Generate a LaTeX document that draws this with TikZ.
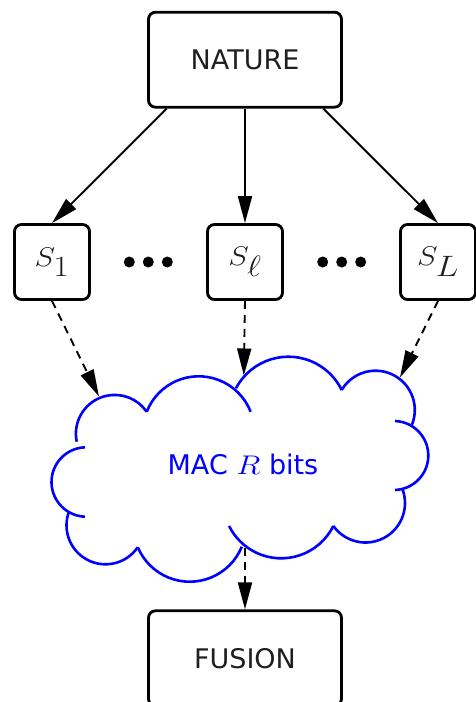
\RequirePackage{fix-cm}
\documentclass[tikz,border=0pt]{standalone}
\usepackage{fontspec}
\setmainfont{DejaVu Sans}
\DeclareMathSizes{27}{27}{29.5}{20}
\usetikzlibrary{arrows.meta,calc}
% slightly widened math italic, as set in the labels
\newcommand{\widemath}[2][1.15]{\scalebox{#1}[1]{$#2$}}

\begin{document}
\begin{tikzpicture}[x=1pt,y=1pt,yscale=-1,
  box/.style={draw=black, line width=2.8pt, rounded corners=7pt, text=black!88,
    font=\fontsize{27}{32}\selectfont},
  bigbox/.style={box, minimum width=193pt, minimum height=95pt},
  sbox/.style={box, minimum width=75pt, minimum height=75pt, inner sep=0pt},
  dotmark/.style={circle, fill=black, inner sep=0pt, minimum size=11pt},
  link/.style={line width=1.9pt, -{Triangle[length=27pt,width=14pt]}},
  dlink/.style={link, dash pattern=on 8pt off 6pt},
  cloudline/.style={draw=blue, line width=2.6pt},
]
\useasboundingbox (0,0) rectangle (476,702);
\clip (0,0) rectangle (476,702);

% boxes
\node[bigbox] (nature) at (245,59.7) {NATURE};
\node[bigbox] (fusion) at (245,658.3) {FUSION};
\node[sbox] (s1) at (52,262) {\widemath{S_1}};
\node[sbox] (sl) at (245,262) {\widemath{S_\ell}};
\node[sbox] (sL) at (438,262) {\widemath{S_L}};

% ellipsis dots between the sensors
\node[dotmark] (dl1) at (129.3,262) {};
\node[dotmark] (dl2) at (148.3,262) {};
\node[dotmark] (dl3) at (167.3,262) {};
\node[dotmark] (dr1) at (322.7,262) {};
\node[dotmark] (dr2) at (341.7,262) {};
\node[dotmark] (dr3) at (360.7,262) {};

% cloud outline: open circular arcs (centre x / centre y / radius / start / end)
\foreach \cx/\cy/\r/\a/\b in {
    114.7/433.7/38.8/168.1/325.5,
    198.7/432.1/55.8/201.4/338.6,
    288.4/416/59.3/207.9/334,
    375.5/410/39.3/210.6/382,
    393.8/455.5/34.5/272/448,
    365.5/503/39.5/-21.3/144.5,
    281.2/500.1/58.2/26.4/153.6,
    189.7/525.4/56.3/22.3/157.2,
    105.5/525.3/39/34.3/200.4,
    86.2/482/34.7/268/92}
  \draw[cloudline] ([shift={(\a:\r)}]\cx,\cy) arc[start angle=\a, end angle=\b, radius=\r];

\node[text=blue, font=\fontsize{27}{32}\selectfont] (mac) at (243,464.5)
  {MAC \widemath[1.18]{R} bits};

% connector ends on the cloud
\coordinate (c1) at (99,396.5);
\coordinate (c2) at (243.8,375.5);
\coordinate (c3) at (400,377.5);
\coordinate (c4) at (245,547.5);

% connectors
\draw[link] ($(nature.south)+(-78.3,0)$) -- (s1.north);
\draw[link] (nature.south) -- (sl.north);
\draw[link] ($(nature.south)+(78.3,0)$) -- (sL.north);
\draw[dlink] (s1.south) -- (c1);
\draw[dlink] (sl.south) -- (c2);
\draw[dlink] (sL.south) -- (c3);
\draw[dlink] (c4) -- (fusion.north);
\end{tikzpicture}
\end{document}
